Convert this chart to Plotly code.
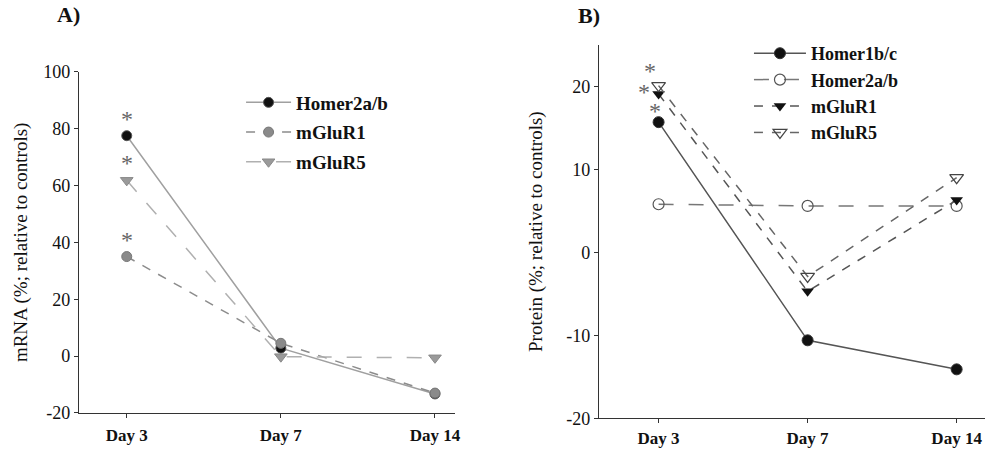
import plotly.graph_objects as go

days = ["Day 3", "Day 7", "Day 14"]

# Panel A: mRNA (% relative to controls)
a_homer2ab = [77.5, 2.8, -13.3]
a_mglur1 = [35.0, 4.5, -13.0]
a_mglur5 = [61.8, -0.2, -0.6]
a_ticks = [-20, 0, 20, 40, 60, 80, 100]
a_ticktext = ["-20", "0", "20", "40", "60", "80", "100"]

# Panel B: Protein (% relative to controls)
b_homer1bc = [15.7, -10.6, -14.1]
b_homer2ab = [5.8, 5.6, 5.6]
b_mglur1 = [19.1, -4.7, 6.3]
b_mglur5 = [20.1, -2.9, 9.0]
b_ticks = [-20, -10, 0, 10, 20]
b_ticktext = ["-20", "-10", "0", "10", "20"]

SERIF = "Liberation Serif"

fig = go.Figure()

# ---- Panel A ----
fig.add_trace(go.Scatter(x=days, y=a_homer2ab, name="Homer2a/b", mode="lines+markers",
                         line=dict(color="#a0a0a0", width=1.5, dash="solid"),
                         marker=dict(symbol="circle", size=10, color="#111111", line=dict(color="#555", width=1)),
                         xaxis="x", yaxis="y", legend="legend", legendgroup="a1"))
fig.add_trace(go.Scatter(x=days, y=a_mglur1, name="mGluR1", mode="lines+markers",
                         line=dict(color="#8c8c8c", width=1.5, dash="dash"),
                         marker=dict(symbol="circle", size=10, color="#8a8a8a", line=dict(color="#777", width=1)),
                         xaxis="x", yaxis="y", legend="legend", legendgroup="a2"))
fig.add_trace(go.Scatter(x=days, y=a_mglur5, name="mGluR5", mode="lines+markers",
                         line=dict(color="#b0b0b0", width=1.5, dash="longdash"),
                         marker=dict(symbol="triangle-down", size=11, color="#9a9a9a", line=dict(color="#888", width=1)),
                         xaxis="x", yaxis="y", legend="legend", legendgroup="a3"))

# ---- Panel B ----
fig.add_trace(go.Scatter(x=days, y=b_homer1bc, name="Homer1b/c", mode="lines+markers",
                         line=dict(color="#555555", width=1.5, dash="solid"),
                         marker=dict(symbol="circle", size=11, color="#111111", line=dict(color="#333", width=1)),
                         xaxis="x2", yaxis="y2", legend="legend2"))
fig.add_trace(go.Scatter(x=days, y=b_homer2ab, name="Homer2a/b", mode="lines+markers",
                         line=dict(color="#777777", width=1.5, dash="longdash"),
                         marker=dict(symbol="circle-open", size=11, color="#555555", line=dict(width=1.2)),
                         xaxis="x2", yaxis="y2", legend="legend2"))
fig.add_trace(go.Scatter(x=days, y=b_mglur1, name="mGluR1", mode="lines+markers",
                         line=dict(color="#555555", width=1.5, dash="dash"),
                         marker=dict(symbol="triangle-down", size=11, color="#111111"),
                         xaxis="x2", yaxis="y2", legend="legend2"))
fig.add_trace(go.Scatter(x=days, y=b_mglur5, name="mGluR5", mode="lines+markers",
                         line=dict(color="#666666", width=1.5, dash="dash"),
                         marker=dict(symbol="triangle-down-open", size=12, color="#444444", line=dict(width=1.2)),
                         xaxis="x2", yaxis="y2", legend="legend2"))

# significance asterisks at Day 3
annotations = []
for val in [a_homer2ab[0], a_mglur5[0], a_mglur1[0]]:
    annotations.append(dict(x=days[0], y=val, xref="x", yref="y", text="*", showarrow=False,
                            yshift=17, font=dict(family=SERIF, size=24, color="#666")))
for val, xs, ys in [(b_mglur5[0], -9, 15), (b_mglur1[0], -15, 2), (b_homer1bc[0], -4, 11)]:
    annotations.append(dict(x=days[0], y=val, xref="x2", yref="y2", text="*", showarrow=False,
                            yshift=ys, xshift=xs, font=dict(family=SERIF, size=24, color="#666")))

annotations.append(dict(x=0.055, y=1.0, xref="paper", yref="paper", text="<b>A)</b>", showarrow=False,
                        xanchor="left", yanchor="top", font=dict(family=SERIF, size=22, color="#111")))
annotations.append(dict(x=0.581, y=0.998, xref="paper", yref="paper", text="<b>B)</b>", showarrow=False,
                        xanchor="left", yanchor="top", font=dict(family=SERIF, size=22, color="#111")))

axis_common = dict(showline=True, linecolor="#333", linewidth=1, showgrid=False, zeroline=False,
                   ticks="outside", ticklen=4, tickcolor="#333", mirror=False, automargin=False)

fig.update_layout(
    width=992, height=449,
    margin=dict(l=0, r=0, t=0, b=0),
    paper_bgcolor="white", plot_bgcolor="white",
    font=dict(family=SERIF, color="#111"),
    xaxis=dict(domain=[0.0796, 0.4587], anchor="y", type="category", range=[-0.31, 2.13],
               tickfont=dict(family=SERIF, size=17, weight="bold"), ticklabelstandoff=3, **axis_common),
    yaxis=dict(domain=[0.0802, 0.8403], anchor="x", range=[-20, 100],
               tickvals=a_ticks, ticktext=a_ticktext,
               tickfont=dict(family=SERIF, size=18),
               title=dict(text="mRNA (%; relative to controls)", font=dict(family=SERIF, size=19), standoff=10),
               **axis_common),
    xaxis2=dict(domain=[0.6038, 0.9929], anchor="y2", type="category", range=[-0.40, 2.19],
                tickfont=dict(family=SERIF, size=17, weight="bold"), ticklabelstandoff=0, **axis_common),
    yaxis2=dict(domain=[0.0684, 0.8998], anchor="x2", range=[-20, 25],
                tickvals=b_ticks, ticktext=b_ticktext,
                tickfont=dict(family=SERIF, size=18),
                title=dict(text="Protein (%; relative to controls)", font=dict(family=SERIF, size=19), standoff=18),
                **axis_common),
    legend=dict(x=0.243, y=0.814, xanchor="left", yanchor="top", bgcolor="rgba(0,0,0,0)",
                traceorder="grouped", tracegroupgap=2, itemwidth=45,
                font=dict(family=SERIF, size=19, weight="bold", color="#111")),
    legend2=dict(x=0.755, y=0.922, xanchor="left", yanchor="top", bgcolor="rgba(0,0,0,0)",
                 traceorder="normal", itemwidth=52,
                 font=dict(family=SERIF, size=18, weight="bold", color="#111")),
    annotations=annotations,
    showlegend=True,
)

fig.write_html("out.html")
